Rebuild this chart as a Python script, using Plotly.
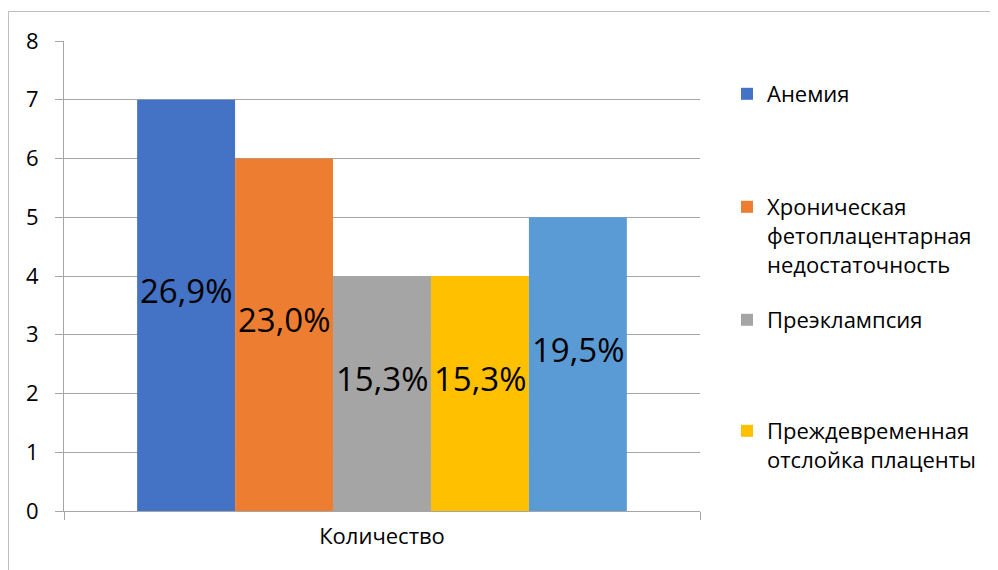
import plotly.graph_objects as go

# Данные
category = ["Количество"]
series_names = [
    "Анемия",
    "Хроническая<br>фетоплацентарная<br>недостаточность",
    "Преэклампсия",
    "Преждевременная<br>отслойка плаценты",
    "Другое",
]
values = [7, 6, 4, 4, 5]
pct_labels = ["26,9%", "23,0%", "15,3%", "15,3%", "19,5%"]
colors = ["#4472C4", "#ED7D31", "#A5A5A5", "#FFC000", "#5B9BD5"]
y_ticks = [0, 1, 2, 3, 4, 5, 6, 7, 8]

FONT = "Open Sans, Arial, sans-serif"
GRID = "#A6A6A6"
BARGAP = 0.23

legend_ids = ["legend", "legend2", "legend3", "legend4", None]

fig = go.Figure()
for name, v, col, lg in zip(series_names, values, colors, legend_ids):
    fig.add_trace(go.Bar(
        x=category,
        y=[v],
        name=name,
        marker=dict(color=col, line=dict(width=0)),
        showlegend=lg is not None,
        legend=lg if lg else "legend",
    ))

# подписи данных: по центру столбца, чуть выше середины (как в Excel)
n = len(values)
bar_w = (1 - BARGAP) / n
for i, (v, lbl) in enumerate(zip(values, pct_labels)):
    fig.add_annotation(
        x=(i - (n - 1) / 2) * bar_w, y=v / 2,
        xref="x", yref="y",
        text=lbl, showarrow=False, yshift=15,
        font=dict(family=FONT, size=33, color="#000000"),
    )

# страница имеет отступ 8px, поэтому координаты сдвинуты
W, H = 998, 570
ML, MR, MT, MB = 56, 306, 33, 67
pw, ph = W - ML - MR, H - MT - MB

def px_x(x):
    return (x - ML) / pw

def px_y(y):
    return (H - MB - y) / ph

leg_common = dict(
    xanchor="left", yanchor="top", valign="top",
    font=dict(family=FONT, size=22, color="#000000"),
    bgcolor="rgba(0,0,0,0)", borderwidth=0,
    itemwidth=30,
)
legend_tops = [65, 178, 291, 402]
LEG_X = 719

fig.update_layout(
    width=W, height=H,
    margin=dict(l=ML, r=MR, t=MT, b=MB),
    paper_bgcolor="white",
    plot_bgcolor="white",
    font=dict(family=FONT, color="#000000"),
    barmode="group",
    bargap=BARGAP,
    bargroupgap=0,
    xaxis=dict(
        type="category",
        showgrid=False,
        showline=True, linecolor=GRID, linewidth=1,
        ticks="outside", tickson="boundaries", ticklen=8, tickcolor=GRID,
        tickfont=dict(family=FONT, size=22, color="#000000"),
        ticklabelstandoff=6,
    ),
    yaxis=dict(
        range=[0, 8],
        tickvals=y_ticks,
        showgrid=True, gridcolor=GRID, gridwidth=1,
        showline=True, linecolor=GRID, linewidth=1,
        ticks="outside", ticklen=8, tickcolor=GRID,
        tickfont=dict(family=FONT, size=22, color="#000000"),
        ticklabelstandoff=12,
        zeroline=False,
    ),
    legend=dict(x=px_x(LEG_X), y=px_y(legend_tops[0]), **leg_common),
    legend2=dict(x=px_x(LEG_X), y=px_y(legend_tops[1]), **leg_common),
    legend3=dict(x=px_x(LEG_X), y=px_y(legend_tops[2]), **leg_common),
    legend4=dict(x=px_x(LEG_X), y=px_y(legend_tops[3]), **leg_common),
)

# рамка области диаграммы
fig.add_shape(
    type="rect", xref="paper", yref="paper",
    x0=px_x(0.5), x1=px_x(1200), y0=px_y(800), y1=px_y(3.5),
    line=dict(color="#BFBFBF", width=1), fillcolor="rgba(0,0,0,0)",
    layer="below",
)

fig.write_html("out.html")
